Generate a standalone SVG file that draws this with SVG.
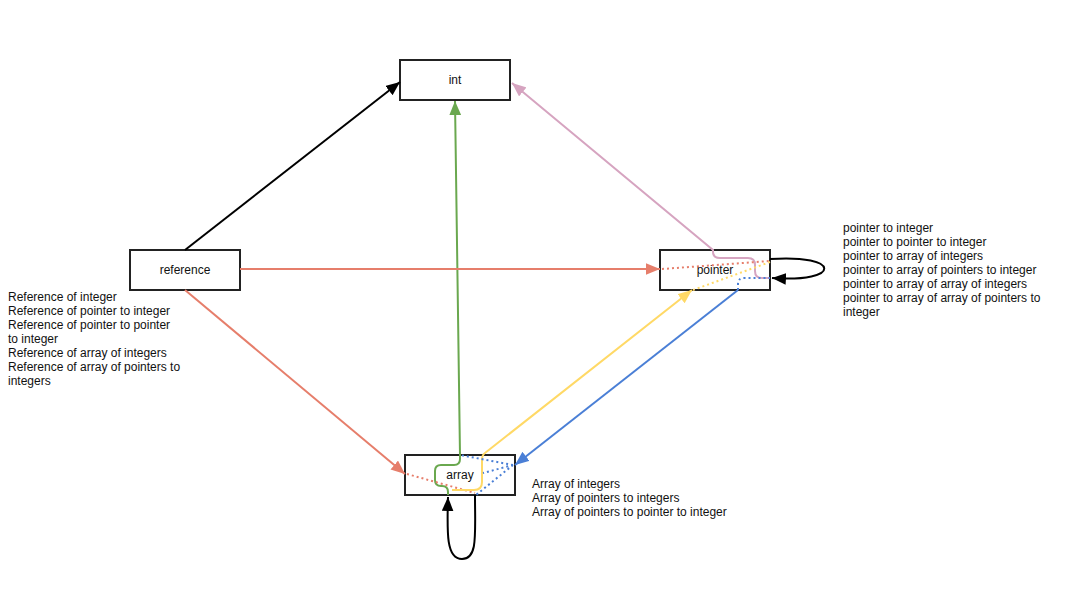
<svg xmlns="http://www.w3.org/2000/svg" width="1075" height="595" viewBox="0 0 1075 595">
<style>
.node rect{fill:#fff;stroke:#222;stroke-width:2}
text{font-family:"Liberation Sans",Arial,sans-serif;font-size:12px;fill:#111}
.c{text-anchor:middle;dominant-baseline:central}
.e{fill:none;stroke-width:2}
.dot{stroke-dasharray:2 3;stroke-width:2;fill:none}
</style>
<defs>
<marker id="aK" markerUnits="userSpaceOnUse" markerWidth="14" markerHeight="12" refX="12" refY="5" orient="auto" viewBox="0 0 12 10"><path d="M0,0 L12,5 L0,10 Z" fill="#000"/></marker>
<marker id="aG" markerUnits="userSpaceOnUse" markerWidth="14" markerHeight="12" refX="12" refY="5" orient="auto" viewBox="0 0 12 10"><path d="M0,0 L12,5 L0,10 Z" fill="#6aa84f"/></marker>
<marker id="aP" markerUnits="userSpaceOnUse" markerWidth="14" markerHeight="12" refX="12" refY="5" orient="auto" viewBox="0 0 12 10"><path d="M0,0 L12,5 L0,10 Z" fill="#d6a4c0"/></marker>
<marker id="aS" markerUnits="userSpaceOnUse" markerWidth="14" markerHeight="12" refX="12" refY="5" orient="auto" viewBox="0 0 12 10"><path d="M0,0 L12,5 L0,10 Z" fill="#e67e6b"/></marker>
<marker id="aY" markerUnits="userSpaceOnUse" markerWidth="14" markerHeight="12" refX="12" refY="5" orient="auto" viewBox="0 0 12 10"><path d="M0,0 L12,5 L0,10 Z" fill="#ffd966"/></marker>
<marker id="aB" markerUnits="userSpaceOnUse" markerWidth="14" markerHeight="12" refX="12" refY="5" orient="auto" viewBox="0 0 12 10"><path d="M0,0 L12,5 L0,10 Z" fill="#4a7fd6"/></marker>
</defs>
<rect width="1075" height="595" fill="#fff"/>
<g id="nodes">
<g id="node-int" class="node"><rect x="400" y="60" width="110" height="40"/><text class="c" x="455" y="80">int</text></g>
<g id="node-reference" class="node"><rect x="130" y="250" width="110" height="40"/><text class="c" x="185" y="270">reference</text></g>
<g id="node-pointer" class="node"><rect x="660" y="250" width="110" height="40"/><text class="c" x="715" y="270">pointer</text></g>
<g id="node-array" class="node"><rect x="405" y="455" width="110" height="40"/><text class="c" x="460" y="475">array</text></g>
</g>
<g id="connectors">
<path class="e" stroke="#000" d="M185,250 L400,82" marker-end="url(#aK)"/>
<path class="e" stroke="#6aa84f" d="M448,495 L448,492 Q448,486 442,486 L441,486 Q435,486 435,480 L435,471 Q435,465 441,465 L454,465 Q460,465 460,459 L460,455 L455,101" marker-end="url(#aG)"/>
<path class="e" stroke="#d6a4c0" d="M770,278 L762,278 Q755,278 755,271 L755,265 Q755,258 748,258 L720,258 Q713,258 713,252 L713,250 L512,83" marker-end="url(#aP)"/>
<path class="e" stroke="#000" d="M770,259 C842,254 842,283 772,278" marker-end="url(#aK)"/>
<path class="e" stroke="#e67e6b" d="M240,269 L660,269" marker-end="url(#aS)"/>
<path class="dot" stroke="#e67e6b" d="M662,269 L770,261"/>
<path class="e" stroke="#e67e6b" d="M185,290 L405,474" marker-end="url(#aS)"/>
<path class="dot" stroke="#e67e6b" d="M407,474 L475,493"/>
<path class="e" stroke="#ffd966" d="M452,490 L474,490 Q482,490 482,482 L482,460 Q482,455 485,453 L692,290" marker-end="url(#aY)"/>
<path class="dot" stroke="#ffd966" d="M693,290 L770,262"/>
<path class="e" stroke="#4a7fd6" d="M738,290 L515,465" marker-end="url(#aB)"/>
<path class="dot" stroke="#4a7fd6" d="M738,290 L738,284 Q738,278 744,278 L770,278"/>
<path class="dot" stroke="#4a7fd6" d="M513,465 L460,455 M513,465 L483,473 M513,465 L476,495"/>
<path class="e" stroke="#000" d="M475,495 C475,535 478,559 462,559 C446,559 447,532 448,497" marker-end="url(#aK)"/>
</g>
<g id="labels">
<text x="8" y="301">Reference of integer</text>
<text x="8" y="315">Reference of pointer to integer</text>
<text x="8" y="329">Reference of pointer to pointer</text>
<text x="8" y="343">to integer</text>
<text x="8" y="357">Reference of array of integers</text>
<text x="8" y="371">Reference of array of pointers to</text>
<text x="8" y="385">integers</text>
<text x="843" y="232">pointer to integer</text>
<text x="843" y="246">pointer to pointer to integer</text>
<text x="843" y="260">pointer to array of integers</text>
<text x="843" y="274">pointer to array of pointers to integer</text>
<text x="843" y="288">pointer to array of array of integers</text>
<text x="843" y="302">pointer to array of array of pointers to</text>
<text x="843" y="316">integer</text>
<text x="532" y="488">Array of integers</text>
<text x="532" y="502">Array of pointers to integers</text>
<text x="532" y="516">Array of pointers to pointer to integer</text>
</g>
</svg>
